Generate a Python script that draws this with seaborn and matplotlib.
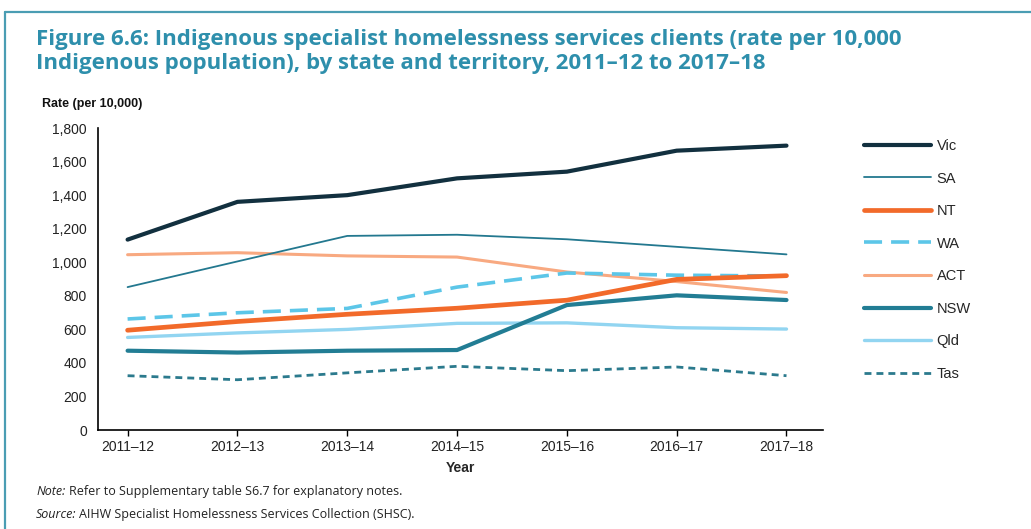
import pandas as pd
import matplotlib.pyplot as plt
import seaborn as sns
from matplotlib.lines import Line2D

# chart data (rate per 10,000 Indigenous population)
years = ["2011\u201312", "2012\u201313", "2013\u201314", "2014\u201315",
         "2015\u201316", "2016\u201317", "2017\u201318"]
vic = [1135, 1360, 1400, 1500, 1540, 1665, 1695]
sa = [852, 1005, 1157, 1164, 1137, 1092, 1047]
nt = [595, 647, 690, 726, 774, 898, 920]
wa = [662, 699, 725, 852, 936, 923, 918]
act = [1045, 1057, 1038, 1031, 942, 885, 820]
nsw = [473, 462, 473, 477, 745, 803, 775]
qld = [552, 579, 600, 636, 639, 610, 602]
tas = [324, 300, 341, 380, 354, 376, 324]

states = ["Vic", "SA", "NT", "WA", "ACT", "NSW", "Qld", "Tas"]
values = [vic, sa, nt, wa, act, nsw, qld, tas]

# line styles per state
colors = {"Vic": "#12303f", "SA": "#23788f", "NT": "#f26a2a", "WA": "#5cc6e8",
          "ACT": "#f8a981", "NSW": "#227d94", "Qld": "#92d5f1", "Tas": "#2b7a8d"}
widths = {"Vic": 3.0, "SA": 1.3, "NT": 3.4, "WA": 2.6, "ACT": 2.2, "NSW": 3.0,
          "Qld": 2.4, "Tas": 2.0}
dashes = {"WA": (5, 2.5), "Tas": (2.5, 1.8)}

rows = []
for st, vals in zip(states, values):
    for i, v in enumerate(vals):
        rows.append({"state": st, "x": i, "rate": v})
df = pd.DataFrame(rows)

sns.set_style("white")
plt.rcParams['font.family'] = ['Liberation Sans', 'DejaVu Sans']

fig = plt.figure(figsize=(10.31, 5.29), dpi=100)
ax = fig.add_axes([0.095, 0.187, 0.703, 0.571])

draw_order = ["Tas", "Qld", "NSW", "ACT", "SA", "WA", "NT", "Vic"]
for st in draw_order:
    sub = df[df["state"] == st]
    kw = {}
    if st in dashes:
        kw["dashes"] = dashes[st]
    sns.lineplot(data=sub, x="x", y="rate", ax=ax, color=colors[st],
                 linewidth=widths[st], solid_capstyle="round", **kw)

ax.set_xlim(-0.27, 6.33)
ax.set_ylim(0, 1800)
ax.set_xticks(range(len(years)))
ax.set_xticklabels(years, fontsize=10, color="#222222")
ax.set_yticks(range(0, 1801, 200))
ax.set_yticklabels([f"{v:,}" for v in range(0, 1801, 200)], fontsize=10, color="#222222")
ax.tick_params(axis="x", length=4, width=1, color="black", pad=3, direction="out", bottom=True)
ax.tick_params(axis="y", length=0, pad=8)
for s in ["top", "right"]:
    ax.spines[s].set_visible(False)
for s in ["left", "bottom"]:
    ax.spines[s].set_color("black")
    ax.spines[s].set_linewidth(1.2)
ax.set_xlabel("Year", fontsize=10, fontweight="bold", labelpad=5)
ax.set_ylabel("")

# legend
handles = []
for st in states:
    kw = {}
    if st in dashes:
        kw["dashes"] = dashes[st]
    handles.append(Line2D([0], [0], color=colors[st], linewidth=widths[st],
                          solid_capstyle="round", **kw))
fig.legend(handles, states, loc="upper left", bbox_to_anchor=(0.825, 0.762),
           frameon=False, fontsize=10.5, handlelength=4.6, handletextpad=0.4,
           labelspacing=1.27)

# titles and notes
title_col = "#2e8fac"
fig.text(0.035, 0.925, "Figure 6.6: Indigenous specialist homelessness services clients (rate per 10,000",
         fontsize=16, fontweight="bold", color=title_col, va="center", family=["Open Sans", "DejaVu Sans"])
fig.text(0.035, 0.880, "Indigenous population), by state and territory, 2011\u201312 to 2017\u201318",
         fontsize=16, fontweight="bold", color=title_col, va="center", family=["Open Sans", "DejaVu Sans"])
fig.text(0.041, 0.803, "Rate (per 10,000)", fontsize=9, fontweight="bold", color="#111111", va="center")

fig.text(0.035, 0.070, "Note:", fontsize=9, style="italic", color="#222222", va="center",
         family=["Open Sans", "DejaVu Sans"])
fig.text(0.067, 0.070, "Refer to Supplementary table S6.7 for explanatory notes.", fontsize=9,
         color="#222222", va="center", family=["Open Sans", "DejaVu Sans"])
fig.text(0.035, 0.028, "Source:", fontsize=9, style="italic", color="#222222", va="center",
         family=["Open Sans", "DejaVu Sans"])
fig.text(0.077, 0.028, "AIHW Specialist Homelessness Services Collection (SHSC).", fontsize=9,
         color="#222222", va="center", family=["Open Sans", "DejaVu Sans"])

# frame border of the figure box
border = "#4a9db3"
fig.add_artist(Line2D([0.005, 0.005], [0.0, 0.977], color=border, linewidth=1.6))
fig.add_artist(Line2D([0.005, 1.0], [0.977, 0.977], color=border, linewidth=1.6))

fig.savefig("out.png", dpi=100)
